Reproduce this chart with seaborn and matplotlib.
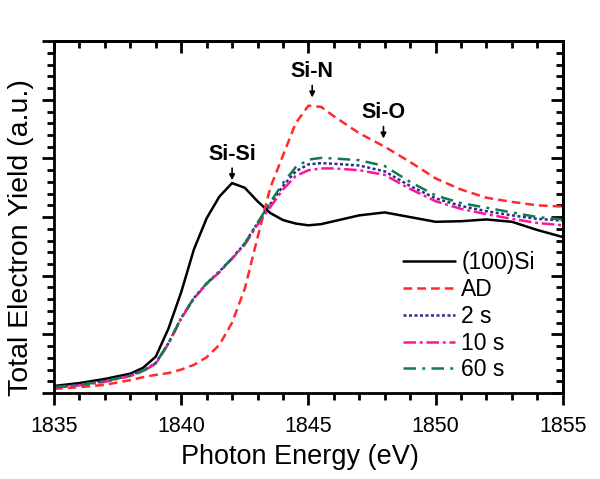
import numpy as np
import pandas as pd
import matplotlib
matplotlib.use("Agg")
import matplotlib.pyplot as plt
import seaborn as sns
from matplotlib.ticker import MultipleLocator, NullFormatter

# photon energy grid (eV) and curve values
energy = [1835, 1836, 1837, 1838, 1838.5, 1839, 1839.5, 1840, 1840.5, 1841,
          1841.5, 1842, 1842.5, 1843, 1843.5, 1844, 1844.5, 1845, 1845.5,
          1846, 1847, 1848, 1849, 1850, 1851, 1852, 1853, 1854, 1855]

si_100 = [0.12, 0.17, 0.24, 0.33, 0.43, 0.62, 1.10, 1.72, 2.45, 2.98,
          3.35, 3.58, 3.50, 3.27, 3.07, 2.95, 2.89, 2.86, 2.88,
          2.93, 3.03, 3.08, 3.00, 2.92, 2.93, 2.96, 2.92, 2.78, 2.66]

ad = [0.07, 0.10, 0.14, 0.22, 0.27, 0.31, 0.34, 0.40, 0.48, 0.61,
      0.82, 1.20, 1.78, 2.65, 3.50, 4.05, 4.60, 4.90, 4.88,
      4.72, 4.43, 4.20, 3.94, 3.66, 3.47, 3.33, 3.26, 3.20, 3.18]

t2 = [0.10, 0.14, 0.20, 0.30, 0.38, 0.51, 0.85, 1.28, 1.62, 1.87,
      2.07, 2.30, 2.55, 2.90, 3.22, 3.53, 3.78, 3.90, 3.92,
      3.91, 3.88, 3.78, 3.53, 3.32, 3.19, 3.10, 3.03, 2.97, 2.94]

t10 = [0.09, 0.13, 0.19, 0.29, 0.37, 0.50, 0.84, 1.27, 1.61, 1.86,
       2.06, 2.29, 2.53, 2.87, 3.17, 3.47, 3.70, 3.80, 3.83,
       3.83, 3.80, 3.72, 3.48, 3.27, 3.14, 3.05, 2.97, 2.90, 2.86]

t60 = [0.10, 0.14, 0.20, 0.30, 0.38, 0.51, 0.85, 1.28, 1.62, 1.87,
       2.07, 2.30, 2.55, 2.90, 3.25, 3.58, 3.85, 3.98, 4.01,
       4.00, 3.97, 3.87, 3.60, 3.37, 3.24, 3.16, 3.08, 3.00, 2.96]

labels = ["(100)Si", "AD", "2 s", "10 s", "60 s"]
colors = ["black", "#ff2a2a", "#2b2b99", "#ff1493", "#137a4c"]
styles = ["-", (0, (3.5, 2)), (0, (1.2, 1)), (0, (5, 1.5, 1.2, 1.5)),
          (0, (5, 2.5, 1.2, 2.5))]

# peak markers: label, energy, arrow tip height
peak_names = ["Si-Si", "Si-N", "Si-O"]
peak_x = [1842.0, 1845.15, 1847.95]
peak_y = [3.63, 5.04, 4.34]

sns.set_style("ticks")
plt.rcParams["font.family"] = ["Liberation Sans", "DejaVu Sans"]
plt.rcParams.update({"text.color": "black", "axes.labelcolor": "black",
                     "xtick.color": "black", "ytick.color": "black",
                     "axes.edgecolor": "black"})

fig = plt.figure(figsize=(6.0, 4.79), dpi=100)
ax = fig.add_axes([0.09, 0.1795, 0.848, 0.7345])

for name, vals, col, ls in zip(labels, [si_100, ad, t2, t10, t60], colors, styles):
    sns.lineplot(x=energy, y=vals, ax=ax, color=col, linestyle=ls,
                 linewidth=1.8, label=name)

ax.set_xlim(1835, 1855)
ax.set_ylim(0, 6)
ax.xaxis.set_major_locator(MultipleLocator(5))
ax.xaxis.set_minor_locator(MultipleLocator(1))
ax.yaxis.set_major_locator(MultipleLocator(1))
ax.yaxis.set_minor_locator(MultipleLocator(0.2))
ax.yaxis.set_major_formatter(NullFormatter())
ax.tick_params(which="major", direction="out", length=8.5, width=2,
               labelsize=15.5, pad=8)
ax.tick_params(which="minor", direction="out", length=5, width=2)
for s in ax.spines.values():
    s.set_linewidth(2)

# top / right ticks point inward
top = ax.secondary_xaxis("top")
top.xaxis.set_major_locator(MultipleLocator(5))
top.xaxis.set_minor_locator(MultipleLocator(1))
top.tick_params(which="major", direction="in", length=8.5, width=2, labeltop=False)
top.tick_params(which="minor", direction="in", length=5, width=2)
right = ax.secondary_yaxis("right")
right.yaxis.set_major_locator(MultipleLocator(1))
right.yaxis.set_minor_locator(MultipleLocator(0.2))
right.tick_params(which="major", direction="in", length=8.5, width=2, labelright=False)
right.tick_params(which="minor", direction="in", length=5, width=2)
top.spines["top"].set_linewidth(2)
right.spines["right"].set_linewidth(2)

ax.set_xlabel("Photon Energy (eV)", fontsize=19.5)
ax.set_ylabel("Total Electron Yield (a.u.)", fontsize=20.5)
ax.xaxis.set_label_coords(0.483, -0.145)
ax.yaxis.set_label_coords(-0.04, 0.443)

for txt, px, py in zip(peak_names, peak_x, peak_y):
    ax.annotate(txt, xy=(px, py), xytext=(0, 11), textcoords="offset points",
                ha="center", va="bottom", fontsize=15.5, fontweight="bold",
                arrowprops=dict(arrowstyle="-|>", color="black", lw=1.2,
                                mutation_scale=8, shrinkA=0, shrinkB=0))

ax.legend(loc="upper left", bbox_to_anchor=(0.667, 0.43), frameon=False,
          fontsize=16.5, handlelength=2.27, handletextpad=0.3, labelspacing=0.17,
          borderaxespad=0)

fig.savefig("out.png", dpi=100)
